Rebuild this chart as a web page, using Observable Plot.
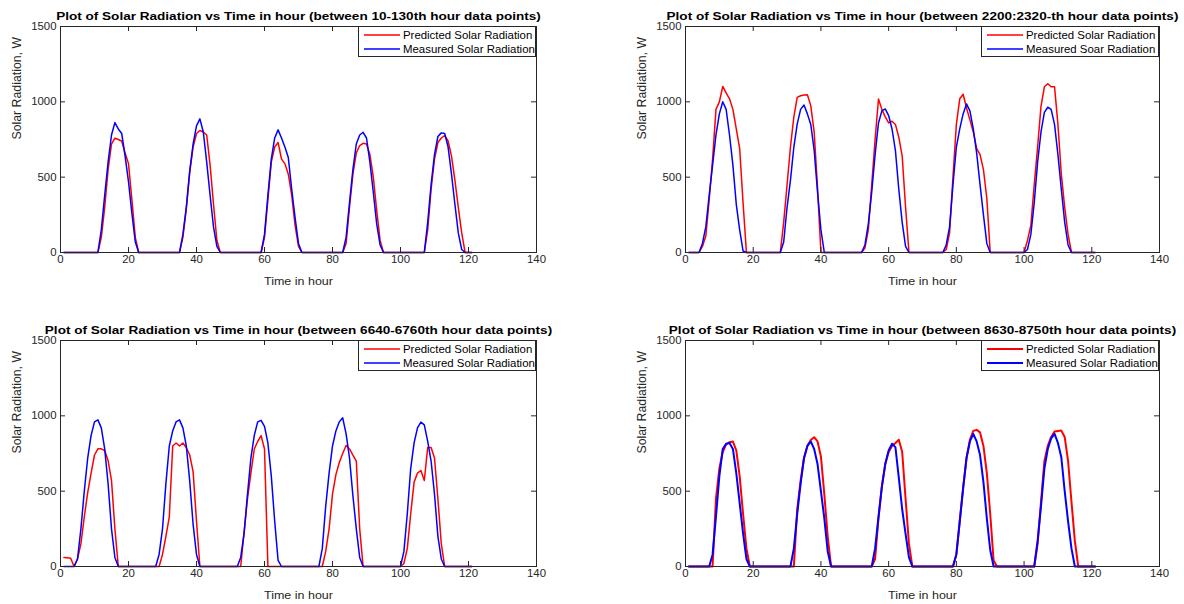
<!DOCTYPE html>
<html><head><meta charset="utf-8">
<script src="https://cdn.jsdelivr.net/npm/d3@7"></script>
<script src="https://cdn.jsdelivr.net/npm/@observablehq/plot@0.6"></script>
<style>
html,body{margin:0;padding:0;background:#fff;overflow:hidden}
#wrap{position:relative;width:1184px;height:604px;font-family:"Liberation Sans",Arial,sans-serif}
.panel{position:absolute}
.legend{position:absolute;background:#fff;border:1px solid #262626;box-sizing:border-box;font-size:10.5px;color:#000}
.row{position:absolute;left:0;height:14px;display:flex;align-items:center;white-space:nowrap}
.row svg{display:block}
.row span{display:inline-block;transform:scaleX(1.086);transform-origin:left center}
</style></head><body><div id="wrap"></div>
<script>
// hour index of each data point (121 points per window)
const hours = d3.range(1, 122);
const xTicks = [0, 20, 40, 60, 80, 100, 120, 140];
const yTicks = [0, 500, 1000, 1500];

const titles = [
  "Plot of Solar Radiation vs Time in hour (between 10-130th hour data points)",
  "Plot of Solar Radiation vs Time in hour (between 2200:2320-th hour data points)",
  "Plot of Solar Radiation vs Time in hour (between 6640-6760th hour data points)",
  "Plot of Solar Radiation vs Time in hour (between 8630-8750th hour data points)"
];
const legendPred = ["Predicted Solar Radiation", "Predicted Solar Radiation", "Predicted Solar Radiation", "Predicted Solar Radiation"];
const legendMeas = ["Measured Solar Radiation", "Measured Soar Radiation", "Measured Solar Radiation", "Measured Solar Radiation"];
const xLabel = "Time in hour";
const yLabel = "Solar Radiation, W";

// Panel 1: hours 10-130
const meas1 = [0,0,0,0,0,0,0,0,0,0,0,
  150,380,600,780,862,820,790,640,470,260,70,
  0,0,0,0,0,0,0,0,0,0,0,0,0,
  120,300,540,720,840,887,800,600,380,170,40,
  0,0,0,0,0,0,0,0,0,0,0,0,0,
  120,380,620,760,814,760,700,630,420,230,60,
  0,0,0,0,0,0,0,0,0,0,0,0,0,
  100,330,550,720,780,798,760,600,400,190,50,
  0,0,0,0,0,0,0,0,0,0,0,0,0,
  200,450,650,770,794,790,700,520,320,130,20,
  0,0,0];
const pred1 = [0,0,0,0,0,0,0,0,0,0,0,
  100,300,550,720,759,750,740,660,590,350,100,
  0,0,0,0,0,0,0,0,0,0,0,0,0,
  100,290,530,700,790,810,800,780,580,320,80,
  0,0,0,0,0,0,0,0,0,0,0,0,0,
  100,350,600,700,730,620,590,520,380,180,40,
  0,0,0,0,0,0,0,0,0,0,0,0,0,
  60,300,520,660,710,725,720,650,500,280,80,
  0,0,0,0,0,0,0,0,0,0,0,0,0,
  150,420,620,730,760,776,740,640,480,300,130,
  0,0,0];

// Panel 2: hours 2200-2320
const meas2 = [0,0,0,0,
  60,170,380,580,780,920,1001,950,780,580,320,150,10,
  0,0,0,0,0,0,0,0,0,0,0,
  70,300,480,700,854,950,979,920,850,680,400,150,
  0,0,0,0,0,0,0,0,0,0,0,0,
  50,190,400,650,860,940,953,909,820,677,420,200,40,
  0,0,0,0,0,0,0,0,0,0,0,
  50,170,450,700,820,920,986,940,820,660,450,250,60,
  0,0,0,0,0,0,0,0,0,0,0,
  20,120,330,600,800,930,964,950,850,650,420,200,50,
  0,0,0,0,0,0,0,0];
const pred2 = [0,0,0,0,
  40,110,350,620,950,1000,1102,1060,1020,950,820,690,330,
  0,0,0,0,0,0,0,0,0,0,0,
  200,450,700,900,1030,1040,1045,1047,975,800,430,
  0,0,0,0,0,0,0,0,0,0,0,0,0,
  30,150,450,750,1019,950,900,860,871,850,765,640,300,
  0,0,0,0,0,0,0,0,0,0,0,
  20,130,500,850,1020,1050,960,880,800,690,650,550,360,
  0,0,0,0,0,0,0,0,0,0,0,
  80,180,450,700,970,1100,1120,1100,1100,850,520,300,120,
  0,0,0,0,0,0,0,0];

// Panel 3: hours 6640-6760
const meas3 = [0,0,0,0,
  50,250,500,720,870,960,973,920,780,550,250,60,
  0,0,0,0,0,0,0,0,0,0,0,0,
  80,250,550,800,900,960,973,920,800,570,280,80,
  0,0,0,0,0,0,0,0,0,0,0,0,
  60,220,480,720,870,960,970,930,820,600,300,40,
  0,0,0,0,0,0,0,0,0,0,0,0,
  120,400,620,800,900,960,987,880,720,470,250,60,
  0,0,0,0,0,0,0,0,0,0,0,0,
  100,350,650,820,920,958,940,830,700,480,200,50,
  0,0,0,0,0,0,0,0,0];
const pred3 = [60,58,55,0,50,150,330,490,620,740,781,781,770,703,571,250,
  0,0,0,0,0,0,0,0,0,0,0,0,0,
  80,200,330,800,820,800,820,790,740,630,300,
  0,0,0,0,0,0,0,0,0,0,0,0,0,
  230,450,620,780,830,869,780,
  0,0,0,0,0,0,0,0,0,0,0,0,0,0,0,0,0,
  100,250,480,610,690,750,803,780,740,700,250,
  0,0,0,0,0,0,0,0,0,0,0,0,
  20,120,350,560,620,637,571,790,790,720,450,150,
  0,0,0,0,0,0,0,0,0];

// Panel 4: hours 8630-8750
const meas4 = [0,0,0,0,0,0,0,
  80,330,600,780,815,820,780,620,420,220,50,
  0,0,0,0,0,0,0,0,0,0,0,0,0,
  120,350,550,720,800,830,780,680,500,320,100,
  0,0,0,0,0,0,0,0,0,0,0,0,0,
  120,330,530,680,770,815,792,590,380,217,60,
  0,0,0,0,0,0,0,0,0,0,0,0,0,
  80,300,520,720,830,880,830,740,560,320,110,
  0,0,0,0,0,0,0,0,0,0,0,0,0,
  170,400,650,780,850,880,820,725,500,300,120,
  0,0,0,0,0,0,0];
const pred4 = [0,0,0,0,0,0,0,0,
  450,650,760,810,825,830,770,600,350,120,
  0,0,0,0,0,0,0,0,0,0,0,0,0,0,
  380,570,720,800,840,858,830,730,480,200,
  0,0,0,0,0,0,0,0,0,0,0,0,0,
  50,320,530,680,760,800,820,841,760,450,150,
  0,0,0,0,0,0,0,0,0,0,0,0,0,
  80,300,520,720,840,900,907,890,800,620,350,40,
  0,0,0,0,0,0,0,0,0,0,0,0,
  150,430,700,800,860,896,900,902,860,700,430,170,
  0,0,0,0,0,0];

const FONT = '"Liberation Sans", Arial, Helvetica, sans-serif';
const INK = "#262626";

const panels = [
  {left: 0,   top: 0,   w: 592, ml: 60, mr: 56, meas: meas1, pred: pred1, sw: 1.5},
  {left: 592, top: 0,   w: 592, ml: 93, mr: 25, meas: meas2, pred: pred2, sw: 1.5},
  {left: 0,   top: 314, w: 592, ml: 60, mr: 56, meas: meas3, pred: pred3, sw: 1.5},
  {left: 592, top: 314, w: 592, ml: 93, mr: 25, meas: meas4, pred: pred4, sw: 2}
];
const H = 290, MT = 26, MB = 38;
// horizontal stretch of the texts (the source image is wider than tall)
const S_TITLE = 1.18, S_TICK = 1.086, S_XLAB = 1.087;

function stretchText(t, s) {
  let tr = t.getAttribute("transform") || "";
  const xa = t.getAttribute("x");
  if (xa != null && /^-?[\d.]+$/.test(xa) && +xa !== 0) {
    tr += ` translate(${xa},0)`;
    t.setAttribute("x", 0);
  }
  t.setAttribute("transform", `${tr} scale(${s},1)`.trim());
}

const wrap = document.getElementById("wrap");
panels.forEach((p, k) => {
  const rows = hours.map((h, i) => ({h, pred: p.pred[i], meas: p.meas[i]}));
  const fw = p.w - p.ml - p.mr;
  const fh = H - MT - MB;
  const chart = Plot.plot({
    width: p.w, height: H,
    marginLeft: p.ml, marginRight: p.mr, marginTop: MT, marginBottom: MB,
    style: {fontFamily: FONT, fontSize: "10.5px", color: INK, background: "transparent", overflow: "visible"},
    x: {domain: [0, 140]},
    y: {domain: [0, 1500]},
    marks: [
      Plot.lineY(rows, {x: "h", y: "pred", stroke: "#ff0000", strokeWidth: p.sw}),
      Plot.lineY(rows, {x: "h", y: "meas", stroke: "#0000ff", strokeWidth: p.sw}),
      Plot.frame({stroke: INK}),
      Plot.tickX(xTicks, {x: d => d, insetTop: fh - 5, stroke: INK}),
      Plot.tickX(xTicks, {x: d => d, insetBottom: fh - 5, stroke: INK}),
      Plot.tickY(yTicks, {y: d => d, insetRight: fw - 5, stroke: INK}),
      Plot.tickY(yTicks, {y: d => d, insetLeft: fw - 5, stroke: INK}),
      Plot.axisX(xTicks, {tickSize: 0, tickPadding: 3.5, label: null, tickFormat: d => `${d}`, fill: INK}),
      Plot.axisY(yTicks, {tickSize: 0, tickPadding: 4, label: null, tickFormat: d => `${d}`, fill: INK}),
      Plot.text([titles[k]], {text: d => d, frameAnchor: "top", lineAnchor: "middle", dy: -10.5, fontWeight: "bold", fontSize: 11.5, fill: "#000"}),
      Plot.text([xLabel], {text: d => d, frameAnchor: "bottom", lineAnchor: "middle", dy: 29, fontSize: 11.5, fill: INK}),
      Plot.text([yLabel], {text: d => d, frameAnchor: "left", lineAnchor: "middle", dx: -43, rotate: -90, fontSize: 12.3, fill: INK})
    ]
  });
  const tickStrings = new Set([...xTicks, ...yTicks].map(String));
  chart.querySelectorAll("text").forEach(t => {
    const s = t.textContent;
    if (s === titles[k]) stretchText(t, S_TITLE);
    else if (s === xLabel) stretchText(t, S_XLAB);
    else if (tickStrings.has(s)) stretchText(t, S_TICK);
  });
  const div = document.createElement("div");
  div.className = "panel";
  div.style.left = p.left + "px";
  div.style.top = p.top + "px";
  div.appendChild(chart);
  wrap.appendChild(div);

  // legend box at the top-right corner of the axes
  const lw = 178, lh = 31;
  const lg = document.createElement("div");
  lg.className = "legend";
  lg.style.left = (p.left + p.w - p.mr - lw) + "px";
  lg.style.top = (p.top + MT) + "px";
  lg.style.width = lw + "px";
  lg.style.height = lh + "px";
  const sw = (c) => `<svg width="44" height="14"><line x1="5" x2="41" y1="7" y2="7" stroke="${c}" stroke-width="${p.sw}"/></svg>`;
  lg.innerHTML =
    `<div class="row" style="top:1px">${sw("#ff0000")}<span>${legendPred[k]}</span></div>` +
    `<div class="row" style="top:15px">${sw("#0000ff")}<span>${legendMeas[k]}</span></div>`;
  wrap.appendChild(lg);
});
</script></body></html>
